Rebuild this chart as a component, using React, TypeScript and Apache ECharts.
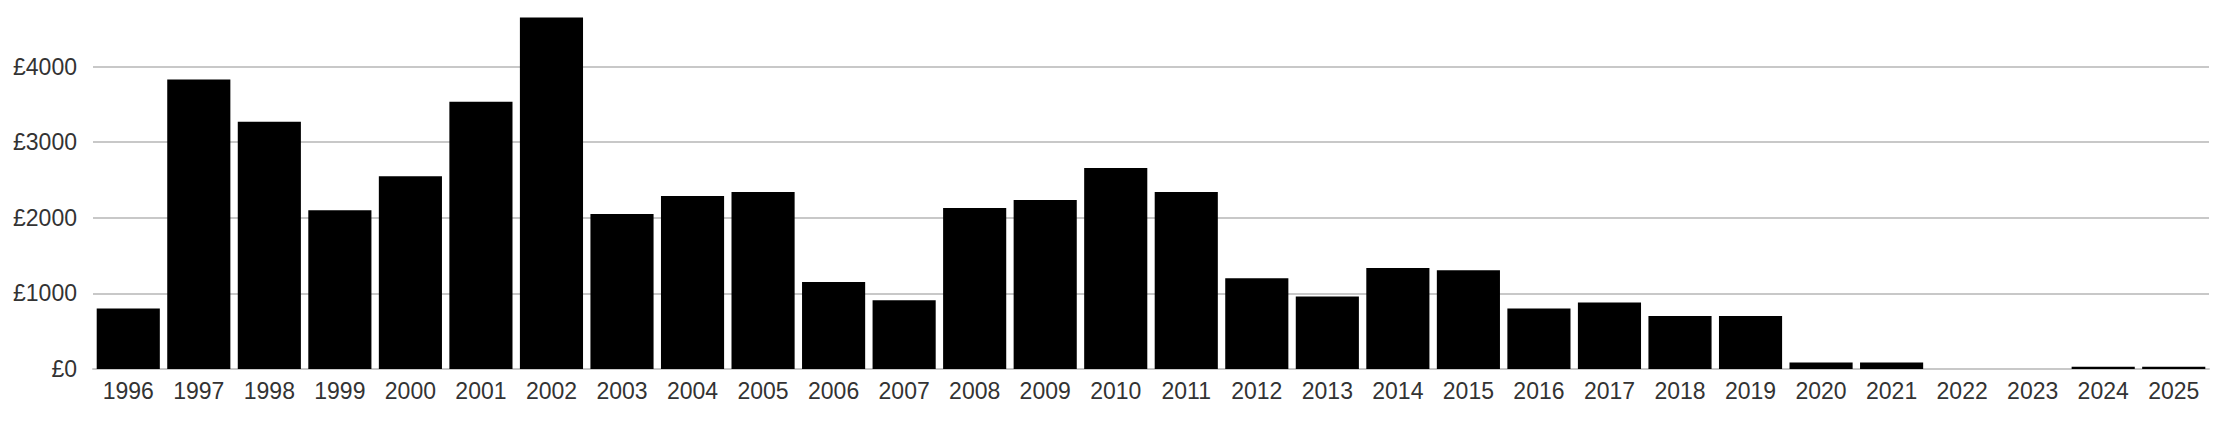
import React, { useEffect, useRef } from "react";
import * as echarts from "echarts";

const years = [
  "1996", "1997", "1998", "1999", "2000", "2001", "2002", "2003", "2004", "2005",
  "2006", "2007", "2008", "2009", "2010", "2011", "2012", "2013", "2014", "2015",
  "2016", "2017", "2018", "2019", "2020", "2021", "2022", "2023", "2024", "2025",
];

const amounts = [
  800, 3830, 3270, 2100, 2550, 3535, 4650, 2050, 2290, 2340,
  1150, 910, 2130, 2235, 2660, 2340, 1200, 960, 1335, 1305,
  800, 880, 700, 700, 85, 85, 0, 0, 30, 30,
];

const yTicks = [0, 1000, 2000, 3000, 4000];

export default function App() {
  const ref = useRef<HTMLDivElement>(null);
  useEffect(() => {
    document.body.style.margin = "0";
    document.body.style.overflow = "hidden";
    const chart = echarts.init(ref.current!, null, { renderer: "svg" });
    chart.setOption({
      animation: false,
      grid: { left: 93, right: 11, top: 0, bottom: 57, containLabel: false },
      xAxis: {
        type: "category",
        data: years,
        axisLine: { show: true, lineStyle: { color: "#c8c8c8", width: 2 } },
        axisTick: { show: false },
        axisLabel: {
          color: "#333",
          fontSize: 23,
          fontFamily: "Liberation Sans, Arial, sans-serif",
          margin: 10,
          interval: 0,
        },
      },
      yAxis: {
        type: "value",
        min: 0,
        max: 5000,
        interval: 1000,
        axisLine: { show: false },
        axisTick: { show: false },
        splitLine: { show: true, lineStyle: { color: "#c8c8c8", width: 2 } },
        axisLabel: {
          color: "#333",
          fontSize: 23,
          fontFamily: "Liberation Sans, Arial, sans-serif",
          margin: 16,
          formatter: (v: number) => (yTicks.includes(v) ? "£" + v : ""),
        },
      },
      series: [
        {
          type: "bar",
          data: amounts,
          barCategoryGap: "10.5%",
          itemStyle: { color: "#000" },
        },
      ],
    });
    return () => chart.dispose();
  }, []);
  return (
    <div
      ref={ref}
      style={{ position: "absolute", left: 0, top: -9, width: 2220, height: 435 }}
    />
  );
}
